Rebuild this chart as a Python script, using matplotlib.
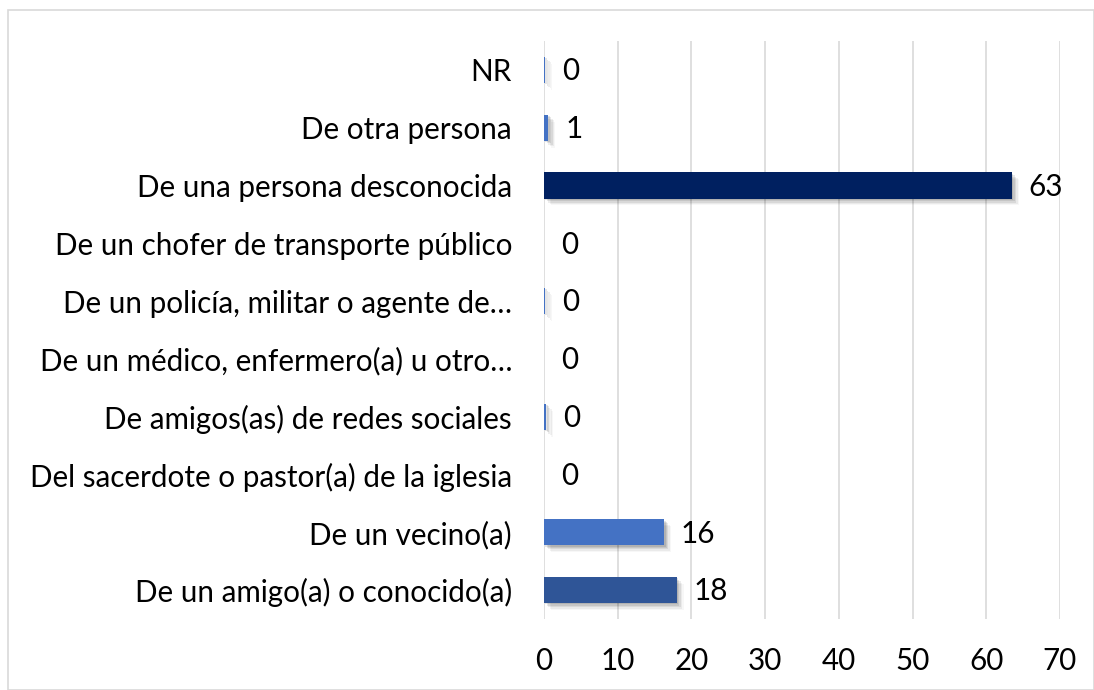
import matplotlib
matplotlib.use("Agg")
import matplotlib.pyplot as plt
import matplotlib.patheffects as pe
from matplotlib.patches import Rectangle

categories = [
    "De un amigo(a) o conocido(a)",
    "De un vecino(a)",
    "Del sacerdote o pastor(a) de la iglesia",
    "De amigos(as) de redes sociales",
    "De un médico, enfermero(a) u otro…",
    "De un policía, militar o agente de…",
    "De un chofer de transporte público",
    "De una persona desconocida",
    "De otra persona",
    "NR",
]
values = [18.0, 16.3, 0.0, 0.3, 0.0, 0.2, 0.0, 63.5, 0.6, 0.2]
labels = ["18", "16", "0", "0", "0", "0", "0", "63", "1", "0"]
colors = ["#2F5597", "#4472C4", "#4472C4", "#4472C4", "#4472C4",
          "#4472C4", "#4472C4", "#002060", "#4472C4", "#4472C4"]
xticks = [0, 10, 20, 30, 40, 50, 60, 70]

plt.rcParams['font.family'] = ['Lato', 'DejaVu Sans']
FS = 21.3

fig = plt.figure(figsize=(10.94, 6.9), dpi=100)
ax = fig.add_axes([544/1094, 1-619/690, (1060-544)/1094, (619-41)/690])

border = Rectangle((8/1094, 0), 1-8/1094, 1-10/690, transform=fig.transFigure,
                   fill=False, edgecolor="#D9D9D9", linewidth=1.2)
fig.patches.append(border)

y = list(range(len(categories)))
bars = ax.barh(y, values, height=0.45, color=colors, zorder=3)
shadow = []
for dx, dy, a in [(1, -1, 0.10), (2, -2, 0.09), (3, -3, 0.07), (4, -4, 0.05), (5, -5, 0.03)]:
    shadow.append(pe.SimplePatchShadow(offset=(dx, dy), shadow_rgbFace="#000000", alpha=a))
for b in bars:
    b.set_path_effects(shadow + [pe.Normal()])

for yi, v, lab in zip(y, values, labels):
    ax.annotate(lab, (v, yi), xytext=(12, -1), textcoords="offset points",
                va="center", ha="left", fontsize=FS, color="#000000")

ax.set_xlim(0, 70)
ax.set_ylim(-0.5, len(categories) - 0.5)
ax.set_xticks(xticks)
ax.set_xticklabels([str(t) for t in xticks], fontsize=FS)
ax.set_yticks(y)
ax.set_yticklabels(categories, fontsize=FS)
ax.tick_params(axis="both", length=0)
ax.tick_params(axis="x", pad=20)
ax.tick_params(axis="y", pad=23)
ax.grid(axis="x", color="#D9D9D9", linewidth=1.2, zorder=0)
for s in ax.spines.values():
    s.set_visible(False)

fig.savefig("out.png", dpi=100)
